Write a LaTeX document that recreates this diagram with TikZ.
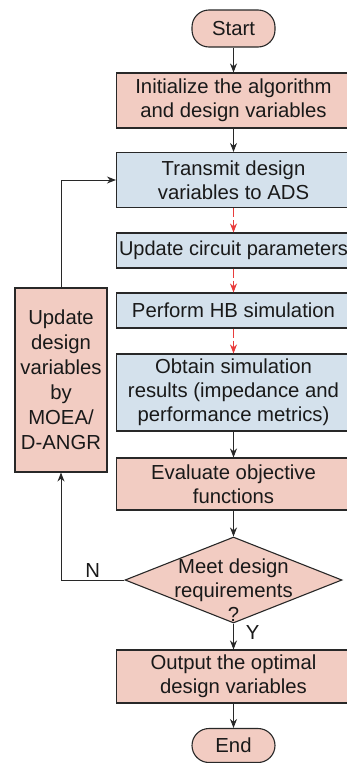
\documentclass[tikz,border=0pt]{standalone}
\usepackage{fontspec}
\setmainfont{Liberation Sans}
\usetikzlibrary{shapes.geometric, arrows.meta}

\definecolor{pinkfill}{RGB}{242,204,194}
\definecolor{bluefill}{RGB}{212,225,236}
\definecolor{edgegray}{RGB}{40,40,40}
\definecolor{dashred}{RGB}{232,60,60}

\begin{document}
\begin{tikzpicture}[x=1pt, y=-1pt,
    every node/.style={font=\fontsize{20.3}{24}\selectfont, text=black!90},
    procpink/.style={draw=edgegray, line width=1.1pt, fill=pinkfill, minimum width=234pt, inner sep=0pt, align=center},
    procblue/.style={procpink, fill=bluefill},
    terminal/.style={draw=edgegray, line width=1.1pt, fill=pinkfill, rounded corners=17pt, minimum width=83pt, minimum height=37pt, inner sep=0pt},
    decision/.style={diamond, draw=edgegray, line width=1.1pt, fill=pinkfill, minimum width=217pt, minimum height=86pt, inner sep=0pt},
    flow/.style={-{Stealth[length=9pt, width=7pt]}, line width=0.9pt, draw=edgegray},
    simflow/.style={flow, draw=dashred, dash pattern=on 9pt off 3pt},
    branch/.style={inner sep=2pt}]
    \useasboundingbox (0,0) rectangle (347,763);
    \clip (0,0) rectangle (347,763);

    % Main chain
    \node[terminal] (start) at (233.5,28.5) {Start};
    \node[procpink, minimum height=55pt] (init) at (233.5,100.5) {Initialize the algorithm\\and design variables};
    \node[procblue, minimum height=55pt] (transmit) at (233.5,180) {Transmit design\\variables to ADS};
    \node[procblue, minimum height=35pt, font=\fontsize{20}{24}\selectfont] (circuit) at (233.5,250.5) {Update circuit parameters};
    \node[procblue, minimum height=35pt] (hbsim) at (233.5,310.5) {Perform HB simulation};
    \node[procblue, minimum height=77pt] (results) at (233.5,392.5) {Obtain simulation\\results (impedance and\\performance metrics)};
    \node[procpink, minimum height=52pt] (evaluate) at (233.5,484) {Evaluate objective\\functions};

    % Decision
    \node[decision] (meet) at (233.5,580) {};
    \node[align=center] (meettext) at (233.5,590) {Meet design\\requirements\\?};

    \node[procpink, minimum height=53pt] (output) at (233.5,676.5) {Output the optimal\\design variables};
    \node[terminal, minimum height=34pt] (end) at (233.5,745.5) {End};

    % Update loop box
    \node[procpink, minimum width=92pt, minimum height=184pt, font=\fontsize{20.3}{25}\selectfont] (moea) at (61,380) {Update\\design\\variables\\by\\MOEA/\\D-ANGR};

    % Connectors
    \draw[flow] (start) -- (init);
    \draw[flow] (init) -- (transmit);
    \draw[simflow] (transmit) -- (circuit);
    \draw[simflow] (circuit) -- (hbsim);
    \draw[simflow] (hbsim) -- (results);
    \draw[flow] (results) -- (evaluate);
    \draw[flow] (evaluate) -- (meet);
    \draw[flow] (meet) -- node[branch, right=10pt, pos=0.35] {Y} (output);
    \draw[flow] (output) -- (end);

    % Feedback
    \draw[flow] (meet.west) -| node[branch, above, pos=0.25] {N} (moea.south);
    \draw[flow] (moea.north) |- (transmit.west);
\end{tikzpicture}
\end{document}
